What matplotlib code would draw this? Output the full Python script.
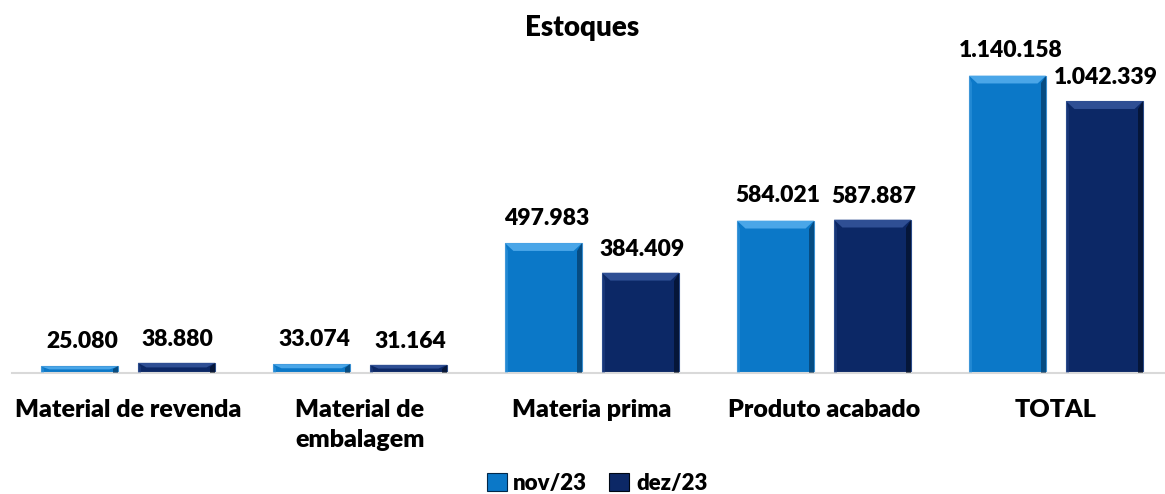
import matplotlib.pyplot as plt
import matplotlib.patches as mpatches
import numpy as np

categorias = ['Material de revenda', 'Material de\nembalagem', 'Materia prima',
              'Produto acabado', 'TOTAL']
nov23 = [25080, 33074, 497983, 584021, 1140158]
dez23 = [38880, 31164, 384409, 587887, 1042339]
series = ['nov/23', 'dez/23']

cor_nov = '#0b78c8'
cor_dez = '#0c2866'

plt.rcParams['font.family'] = ['Lato', 'DejaVu Sans']

fig = plt.figure(figsize=(11.65, 4.94), dpi=100)
ax = fig.add_axes([12 / 1165, 121 / 494, 1160 / 1165, 326 / 494])

x = np.arange(len(categorias))
w = 0.332
off = 0.209


def fmt(v):
    return '{:,}'.format(v).replace(',', '.')


def bevel(rect, light, dark):
    # efeito de chanfro: faixa clara no topo, escura na direita
    x0, y0 = rect.get_x(), rect.get_y()
    bw, bh = rect.get_width(), rect.get_height()
    bx = bw * 0.11
    by = min(bh * 0.45, 30000)
    top = [(x0, y0 + bh), (x0 + bw, y0 + bh), (x0 + bw - bx, y0 + bh - by), (x0 + bx, y0 + bh - by)]
    right = [(x0 + bw, y0 + bh), (x0 + bw, y0), (x0 + bw - bx * 0.6, y0), (x0 + bw - bx * 0.6, y0 + bh - by)]
    left = [(x0, y0 + bh), (x0, y0), (x0 + bx * 0.4, y0), (x0 + bx * 0.4, y0 + bh - by)]
    ax.add_patch(mpatches.Polygon(top, closed=True, color=light, lw=0, zorder=3))
    ax.add_patch(mpatches.Polygon(right, closed=True, color=dark, lw=0, alpha=0.55, zorder=3))
    ax.add_patch(mpatches.Polygon(left, closed=True, color=light, lw=0, alpha=0.35, zorder=3))


b1 = ax.bar(x - off, nov23, w, color=cor_nov, edgecolor='#3a8fd0', lw=0.8, zorder=2, label=series[0])
b2 = ax.bar(x + off, dez23, w, color=cor_dez, edgecolor='#2a4a88', lw=0.8, zorder=2, label=series[1])

for r in b1:
    bevel(r, '#4aa6e8', '#02284a')
for r in b2:
    bevel(r, '#2f4f94', '#000814')

for i, (r1, r2) in enumerate(zip(b1, b2)):
    ax.annotate(fmt(nov23[i]), (r1.get_x() + r1.get_width() / 2, nov23[i]),
                xytext=(2, 18), textcoords='offset points',
                ha='center', va='center', fontsize=16.5, fontweight='heavy')
    ax.annotate(fmt(dez23[i]), (r2.get_x() + r2.get_width() / 2, dez23[i]),
                xytext=(1, 17), textcoords='offset points',
                ha='center', va='center', fontsize=16.5, fontweight='heavy')

ax.set_xlim(-0.5, 4.5)
ax.set_ylim(0, 1250000)
ax.set_xticks(x)
ax.set_xticklabels(categorias, fontsize=18, fontweight='heavy', linespacing=1.45)
ax.tick_params(axis='x', length=0, pad=19)
ax.set_yticks([])
for s in ['top', 'right', 'left']:
    ax.spines[s].set_visible(False)
ax.spines['bottom'].set_color('#d9d9d9')
ax.spines['bottom'].set_linewidth(1.5)

fig.text(0.5, 1 - 28 / 494, 'Estoques', ha='center', va='center',
         fontsize=20, fontweight='heavy')

h1 = mpatches.Patch(facecolor=cor_nov, edgecolor='#02284a', lw=0.8)
h2 = mpatches.Patch(facecolor=cor_dez, edgecolor='#000814', lw=0.8)
fig.legend([h1, h2], series, loc='center', bbox_to_anchor=(597 / 1165, 1 - 483 / 494),
           ncol=2, frameon=False, prop={'size': 16, 'weight': 'heavy'},
           handlelength=0.9, handleheight=0.9, handletextpad=0.3, columnspacing=1.0)

fig.savefig('out.png', dpi=100)
